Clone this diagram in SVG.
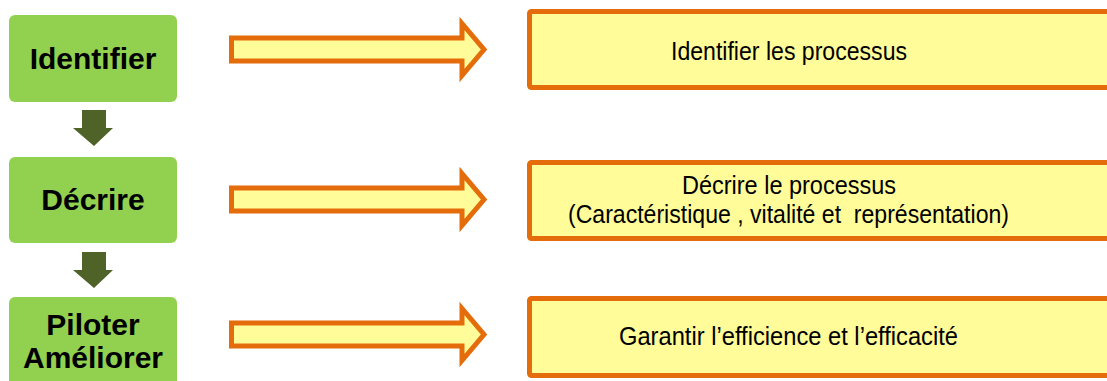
<svg xmlns="http://www.w3.org/2000/svg" width="1107" height="381" viewBox="0 0 1107 381">
<style>
.step{fill:#92D050;}
.stepTxt{font-family:"Liberation Sans",Arial,sans-serif;font-weight:bold;font-size:30px;fill:#000;text-anchor:middle;}
.down{fill:#4F6228;}
.right{fill:#FFFC99;stroke:#E46C0A;stroke-width:5;stroke-linejoin:miter;stroke-miterlimit:10;}
.box{fill:#FFFC99;stroke:#E46C0A;stroke-width:5;}
.boxTxt{font-family:"Liberation Sans",Arial,sans-serif;font-size:26px;fill:#000;text-anchor:middle;}
</style>
<defs>
<path id="rarrow" d="M231.5,-11.5 H462 V-26 L484,0 L462,26 V11.5 H231.5 Z"/>
<path id="darrow" d="M82,0 H106 V18 H113 L94,36 L73,18 H82 Z"/>
</defs>
<g id="node-identifier">
<rect class="step" x="9" y="15" width="168" height="87" rx="6"/>
<text class="stepTxt" x="93" y="69">Identifier</text>
</g>
<g id="node-decrire">
<rect class="step" x="9" y="157" width="168" height="86" rx="6"/>
<text class="stepTxt" x="93" y="210">Décrire</text>
</g>
<g id="node-piloter">
<rect class="step" x="9" y="297" width="168" height="100" rx="6"/>
<text class="stepTxt" x="93" y="335">Piloter</text>
<text class="stepTxt" x="93" y="368">Améliorer</text>
</g>
<g id="node-identifier-desc">
<rect class="box" x="529.5" y="11.5" width="600" height="76" rx="2"/>
<text class="boxTxt" x="789" y="60" textLength="236" lengthAdjust="spacingAndGlyphs">Identifier les processus</text>
</g>
<g id="node-decrire-desc">
<rect class="box" x="529.5" y="162.5" width="600" height="76" rx="2"/>
<text class="boxTxt" x="789" y="194" textLength="214" lengthAdjust="spacingAndGlyphs">Décrire le processus</text>
<text class="boxTxt" x="788.5" y="223" textLength="441" lengthAdjust="spacingAndGlyphs" xml:space="preserve">(Caractéristique , vitalité et  représentation)</text>
</g>
<g id="node-piloter-desc">
<rect class="box" x="529.5" y="298.5" width="600" height="77" rx="2"/>
<text class="boxTxt" x="788.5" y="345" textLength="339" lengthAdjust="spacingAndGlyphs">Garantir l’efficience et l’efficacité</text>
</g>
<g id="connectors">
<use href="#darrow" class="down" y="110"/>
<use href="#darrow" class="down" y="252"/>
<use href="#rarrow" class="right" y="49.5"/>
<use href="#rarrow" class="right" y="199.5"/>
<use href="#rarrow" class="right" y="334.5"/>
</g>
</svg>
